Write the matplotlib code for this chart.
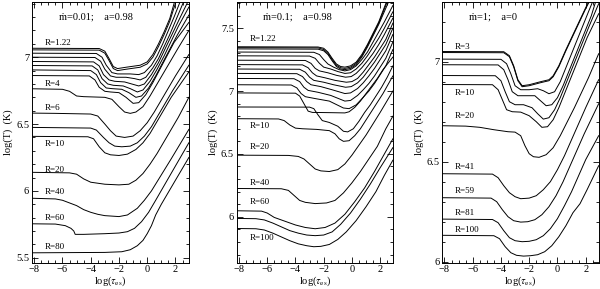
import matplotlib
matplotlib.use('Agg')
import matplotlib.pyplot as plt
from matplotlib.ticker import MultipleLocator, FormatStrFormatter

plt.rcParams['font.family'] = ['Liberation Serif', 'DejaVu Serif']
plt.rcParams['mathtext.fontset'] = 'stix'

# ---- panel 1: mdot=0.01, a=0.98 ----
p1_x = [
    [-8.15, -3.4, -3.0, -2.7, -2.4, -2.1, -1.5, -0.5, 0.0, 0.4, 0.8, 1.2, 1.6, 1.95],
    [-8.15, -3.4, -3.0, -2.7, -2.4, -2.1, -1.5, -0.5, 0.0, 0.4, 0.8, 1.2, 1.6, 2.05],
    [-8.15, -3.6, -3.2, -2.9, -2.5, -2.1, -1.2, -0.6, -0.2, 0.3, 0.7, 1.1, 1.5, 1.9, 2.35],
    [-8.15, -3.7, -3.3, -3.0, -2.6, -2.2, -1.5, -0.9, -0.5, -0.1, 0.4, 0.8, 1.2, 1.6, 2.0, 2.6],
    [-8.15, -3.8, -3.4, -3.1, -2.7, -2.3, -1.6, -1.1, -0.6, -0.2, 0.3, 0.8, 1.3, 1.8, 2.3, 2.95],
    [-8.15, -3.9, -3.5, -3.2, -2.8, -2.4, -1.7, -1.2, -0.7, -0.3, 0.2, 0.7, 1.2, 1.7, 2.2, 2.95],
    [-8.15, -4.0, -3.6, -3.3, -2.9, -2.5, -1.8, -1.3, -0.8, -0.4, 0.1, 0.6, 1.1, 1.6, 2.1, 2.95],
    [-8.15, -4.1, -3.7, -3.4, -3.0, -2.6, -2.0, -1.5, -1.0, -0.6, -0.1, 0.4, 0.9, 1.4, 1.9, 2.95],
    [-8.15, -6.0, -5.5, -5.0, -4.5, -3.0, -2.5, -2.0, -1.6, -1.2, -0.8, -0.3, 0.2, 0.7, 1.2, 1.7, 2.2, 2.95],
    [-8.15, -6.5, -4.0, -3.5, -3.0, -2.6, -2.2, -1.6, -1.0, -0.5, 0.0, 0.5, 1.0, 1.5, 2.0, 2.95],
    [-8.15, -4.0, -3.6, -3.1, -2.7, -2.3, -1.8, -1.2, -0.7, -0.2, 0.3, 0.8, 1.3, 1.8, 2.95],
    [-8.15, -4.2, -3.8, -3.4, -3.0, -2.6, -2.0, -1.4, -0.8, -0.3, 0.2, 0.7, 1.2, 1.7, 2.95],
    [-8.15, -5.5, -5.0, -4.5, -4.0, -3.0, -2.0, -1.3, -0.8, -0.3, 0.2, 0.7, 1.2, 1.7, 2.2, 2.95],
    [-8.15, -6.5, -6.0, -5.0, -4.5, -4.0, -3.5, -3.0, -2.0, -1.4, -0.7, -0.2, 0.3, 1.0, 1.7, 2.95],
    [-8.15, -6.5, -5.8, -5.4, -5.2, -5.1, -4.5, -3.0, -2.0, -1.4, -0.9, -0.4, 0.1, 0.6, 1.2, 1.8, 2.95],
    [-8.15, -3.0, -1.8, -1.2, -0.7, -0.3, 0.0, 0.3, 0.6, 1.0, 1.5, 2.0, 2.95],
]
p1_y = [
    [7.067, 7.065, 7.045, 6.99, 6.93, 6.915, 6.925, 6.94, 6.965, 7.02, 7.10, 7.19, 7.29, 7.42],
    [7.055, 7.053, 7.03, 6.975, 6.915, 6.9, 6.91, 6.925, 6.95, 7.0, 7.08, 7.17, 7.27, 7.42],
    [7.03, 7.028, 7.0, 6.94, 6.885, 6.875, 6.875, 6.87, 6.885, 6.94, 7.01, 7.10, 7.20, 7.30, 7.42],
    [7.0, 6.998, 6.97, 6.91, 6.86, 6.85, 6.85, 6.84, 6.83, 6.85, 6.92, 6.99, 7.08, 7.17, 7.27, 7.42],
    [6.968, 6.965, 6.935, 6.87, 6.83, 6.82, 6.815, 6.80, 6.785, 6.80, 6.87, 6.96, 7.07, 7.18, 7.29, 7.43],
    [6.938, 6.935, 6.905, 6.84, 6.80, 6.79, 6.785, 6.765, 6.74, 6.755, 6.82, 6.91, 7.01, 7.12, 7.23, 7.375],
    [6.905, 6.9, 6.87, 6.81, 6.77, 6.765, 6.76, 6.735, 6.70, 6.71, 6.77, 6.86, 6.96, 7.06, 7.16, 7.315],
    [6.863, 6.86, 6.83, 6.775, 6.745, 6.74, 6.735, 6.70, 6.655, 6.66, 6.72, 6.81, 6.91, 7.01, 7.11, 7.26],
    [6.764, 6.76, 6.745, 6.71, 6.705, 6.70, 6.685, 6.63, 6.59, 6.58, 6.59, 6.63, 6.71, 6.80, 6.89, 6.98, 7.07, 7.20],
    [6.582, 6.58, 6.575, 6.56, 6.50, 6.45, 6.41, 6.40, 6.41, 6.45, 6.51, 6.59, 6.68, 6.77, 6.86, 7.02],
    [6.475, 6.47, 6.455, 6.40, 6.36, 6.335, 6.33, 6.335, 6.36, 6.41, 6.48, 6.57, 6.66, 6.75, 6.94],
    [6.408, 6.405, 6.39, 6.33, 6.285, 6.27, 6.265, 6.275, 6.31, 6.36, 6.43, 6.52, 6.61, 6.70, 6.89],
    [6.139, 6.135, 6.125, 6.09, 6.065, 6.05, 6.045, 6.05, 6.08, 6.13, 6.20, 6.28, 6.37, 6.46, 6.55, 6.70],
    [5.945, 5.94, 5.93, 5.89, 5.86, 5.84, 5.825, 5.815, 5.808, 5.82, 5.87, 5.93, 6.0, 6.12, 6.24, 6.46],
    [5.754, 5.752, 5.74, 5.72, 5.70, 5.675, 5.675, 5.68, 5.685, 5.695, 5.72, 5.77, 5.84, 5.93, 6.04, 6.15, 6.36],
    [5.537, 5.54, 5.545, 5.56, 5.59, 5.63, 5.68, 5.74, 5.82, 5.90, 5.99, 6.08, 6.25],
]
p1_labels = ['R=1.22', 'R=4', 'R=6', 'R=10', 'R=20', 'R=40', 'R=60', 'R=80']
p1_label_y = [7.109, 6.80, 6.62, 6.353, 6.16, 5.99, 5.80, 5.58]

# ---- panel 2: mdot=0.1, a=0.98 ----
p2_x = [
    [-8.2, -2.4, -2.0, -1.7, -1.4, -1.1, -0.8, -0.5, -0.1, 0.3, 0.7, 1.1, 1.5, 1.9, 2.45],
    [-8.2, -2.4, -2.0, -1.7, -1.4, -1.1, -0.8, -0.5, -0.1, 0.3, 0.7, 1.1, 1.5, 1.9, 2.5],
    [-8.2, -2.4, -2.0, -1.7, -1.4, -1.1, -0.8, -0.5, -0.1, 0.3, 0.7, 1.1, 1.5, 1.9, 2.6],
    [-8.2, -2.7, -2.3, -2.0, -1.7, -1.3, -0.9, -0.5, -0.1, 0.3, 0.7, 1.1, 1.5, 1.9, 2.3, 2.9],
    [-8.2, -3.0, -2.6, -2.3, -2.0, -1.5, -1.0, -0.5, -0.1, 0.3, 0.7, 1.1, 1.5, 1.9, 2.3, 2.9],
    [-8.2, -3.3, -2.9, -2.6, -2.3, -1.7, -1.1, -0.45, -0.05, 0.3, 0.7, 1.1, 1.5, 1.9, 2.3, 2.9],
    [-8.2, -3.5, -3.1, -2.8, -2.5, -1.9, -1.2, -0.4, 0.0, 0.4, 0.8, 1.2, 1.6, 2.0, 2.4, 2.9],
    [-8.2, -3.7, -3.3, -3.0, -2.7, -2.0, -1.3, -0.45, -0.05, 0.4, 0.8, 1.2, 1.6, 2.0, 2.4, 2.9],
    [-8.2, -3.9, -3.5, -3.2, -2.9, -2.2, -1.4, -0.5, -0.1, 0.4, 0.8, 1.2, 1.6, 2.0, 2.4, 2.9],
    [-8.2, -4.1, -3.7, -3.4, -3.1, -2.4, -1.5, -0.5, -0.1, 0.4, 0.8, 1.2, 1.6, 2.0, 2.4, 2.9],
    [-8.2, -4.3, -3.9, -3.6, -3.3, -2.6, -1.6, -0.6, -0.2, 0.3, 0.8, 1.2, 1.6, 2.0, 2.4, 2.9],
    [-8.2, -4.0, -3.7, -3.4, -3.1, -2.8, -1.5, -0.5, -0.2, 0.2, 0.6, 1.0, 1.4, 1.8, 2.2, 2.9],
    [-8.2, -3.0, -2.7, -2.4, -2.1, -1.6, -1.0, -0.6, -0.3, 0.1, 0.5, 0.9, 1.3, 1.7, 2.1, 2.5, 2.9],
    [-8.2, -5.2, -4.8, -4.4, -4.0, -3.5, -2.5, -1.6, -1.2, -0.9, -0.6, -0.2, 0.2, 0.6, 1.0, 1.4, 1.8, 2.2, 2.9],
    [-8.2, -4.5, -3.8, -3.4, -3.0, -2.6, -2.2, -1.6, -1.0, -0.5, 0.0, 0.5, 1.0, 1.5, 2.0, 2.9],
    [-8.2, -5.0, -4.5, -4.1, -3.7, -3.3, -2.6, -1.8, -1.2, -0.6, 0.0, 0.6, 1.2, 1.8, 2.4, 2.9],
    [-8.2, -6.4, -6.0, -5.5, -5.0, -4.5, -4.0, -3.3, -2.6, -1.9, -1.2, -0.5, 0.2, 0.9, 1.6, 2.3, 2.9],
    [-8.2, -6.8, -6.2, -5.6, -5.0, -4.4, -3.8, -3.2, -2.6, -2.0, -1.4, -0.8, -0.1, 0.6, 1.3, 2.0, 2.9],
    [-8.2, -6.8, -6.2, -5.6, -5.0, -4.4, -3.8, -3.2, -2.7, -2.2, -1.6, -1.0, -0.4, 0.3, 1.0, 1.7, 2.3, 2.9],
]
p2_y = [
    [7.352, 7.35, 7.34, 7.31, 7.26, 7.215, 7.195, 7.19, 7.2, 7.23, 7.29, 7.37, 7.46, 7.55, 7.71],
    [7.345, 7.343, 7.33, 7.30, 7.25, 7.205, 7.185, 7.18, 7.19, 7.22, 7.28, 7.36, 7.45, 7.54, 7.71],
    [7.335, 7.333, 7.32, 7.29, 7.24, 7.195, 7.175, 7.17, 7.18, 7.21, 7.27, 7.35, 7.44, 7.53, 7.71],
    [7.31, 7.308, 7.29, 7.25, 7.215, 7.19, 7.17, 7.16, 7.17, 7.2, 7.25, 7.31, 7.39, 7.47, 7.55, 7.68],
    [7.28, 7.278, 7.26, 7.22, 7.19, 7.175, 7.155, 7.14, 7.145, 7.175, 7.22, 7.28, 7.35, 7.42, 7.50, 7.63],
    [7.245, 7.243, 7.22, 7.18, 7.16, 7.145, 7.125, 7.11, 7.115, 7.14, 7.185, 7.24, 7.30, 7.37, 7.45, 7.58],
    [7.21, 7.208, 7.185, 7.145, 7.12, 7.105, 7.085, 7.07, 7.075, 7.10, 7.15, 7.21, 7.27, 7.34, 7.41, 7.54],
    [7.175, 7.173, 7.15, 7.11, 7.085, 7.07, 7.05, 7.03, 7.035, 7.065, 7.11, 7.17, 7.23, 7.30, 7.37, 7.50],
    [7.14, 7.138, 7.115, 7.075, 7.05, 7.035, 7.01, 6.98, 6.985, 7.02, 7.065, 7.12, 7.18, 7.25, 7.32, 7.45],
    [7.10, 7.098, 7.075, 7.03, 7.005, 6.99, 6.965, 6.92, 6.925, 6.965, 7.01, 7.06, 7.12, 7.19, 7.26, 7.39],
    [7.05, 7.048, 7.025, 6.98, 6.955, 6.94, 6.92, 6.865, 6.86, 6.89, 6.95, 7.0, 7.06, 7.13, 7.2, 7.33],
    [6.985, 6.983, 6.96, 6.90, 6.84, 6.83, 6.828, 6.826, 6.835, 6.87, 6.92, 6.98, 7.04, 7.10, 7.17, 7.27],
    [6.873, 6.872, 6.86, 6.81, 6.765, 6.75, 6.72, 6.68, 6.675, 6.70, 6.76, 6.83, 6.89, 6.96, 7.03, 7.11, 7.20],
    [6.78, 6.778, 6.765, 6.73, 6.705, 6.70, 6.695, 6.685, 6.66, 6.62, 6.6, 6.605, 6.645, 6.70, 6.77, 6.84, 6.91, 6.98, 7.12],
    [6.49, 6.488, 6.48, 6.46, 6.42, 6.38, 6.365, 6.36, 6.375, 6.42, 6.49, 6.57, 6.65, 6.74, 6.83, 7.0],
    [6.225, 6.223, 6.21, 6.17, 6.13, 6.115, 6.105, 6.11, 6.13, 6.19, 6.27, 6.36, 6.46, 6.56, 6.7, 6.8],
    [6.048, 6.045, 6.03, 5.995, 5.975, 5.955, 5.935, 5.915, 5.905, 5.915, 5.95, 6.02, 6.12, 6.23, 6.36, 6.5, 6.62],
    [5.987, 5.985, 5.975, 5.95, 5.92, 5.89, 5.87, 5.855, 5.85, 5.855, 5.88, 5.94, 6.03, 6.14, 6.26, 6.39, 6.55],
    [5.907, 5.905, 5.895, 5.87, 5.84, 5.81, 5.785, 5.77, 5.762, 5.765, 5.78, 5.82, 5.88, 5.97, 6.08, 6.2, 6.33, 6.45],
]
p2_labels = ['R=1.22', 'R=10', 'R=20', 'R=40', 'R=60', 'R=100']
p2_label_y = [7.415, 6.72, 6.556, 6.27, 6.116, 5.833]

# ---- panel 3: mdot=1, a=0 ----
p3_x = [
    [-8.2, -3.8, -3.4, -3.1, -2.8, -2.5, -2.0, -1.2, -0.6, -0.3, 0.1, 0.6, 1.1, 1.6, 2.0, 2.35],
    [-8.2, -3.8, -3.4, -3.1, -2.8, -2.5, -2.0, -1.2, -0.6, -0.3, 0.1, 0.6, 1.1, 1.6, 2.0, 2.4],
    [-8.2, -4.0, -3.6, -3.3, -3.0, -2.6, -2.0, -1.4, -1.0, -0.6, -0.2, 0.2, 0.6, 1.0, 1.4, 1.8, 2.2, 2.55],
    [-8.2, -4.2, -3.8, -3.5, -3.2, -2.8, -2.2, -1.6, -1.2, -0.8, -0.4, 0.0, 0.4, 0.8, 1.2, 1.6, 2.0, 2.4, 2.75],
    [-8.2, -4.4, -4.0, -3.7, -3.4, -3.0, -2.4, -1.8, -1.4, -1.0, -0.6, -0.2, 0.2, 0.6, 1.0, 1.4, 1.8, 2.2, 2.92],
    [-8.2, -4.6, -4.2, -3.9, -3.6, -3.2, -2.6, -2.0, -1.5, -1.1, -0.7, -0.3, 0.1, 0.5, 0.9, 1.3, 1.7, 2.1, 2.92],
    [-8.2, -6.5, -5.5, -4.5, -3.5, -3.0, -2.6, -2.3, -2.0, -1.7, -1.3, -0.8, -0.3, 0.2, 0.7, 1.2, 1.7, 2.2, 2.92],
    [-8.2, -4.6, -4.2, -3.8, -3.4, -3.0, -2.6, -2.0, -1.5, -1.0, -0.5, 0.0, 0.5, 1.0, 1.5, 2.0, 2.92],
    [-8.2, -4.7, -4.3, -3.9, -3.5, -3.1, -2.6, -2.1, -1.6, -1.1, -0.6, -0.1, 0.4, 0.9, 1.4, 1.9, 2.92],
    [-8.2, -4.6, -4.2, -3.8, -3.4, -3.0, -2.5, -2.0, -1.5, -1.0, -0.5, 0.0, 0.5, 1.0, 1.5, 2.0, 2.92],
    [-8.2, -4.5, -4.1, -3.7, -3.3, -2.9, -2.4, -1.9, -1.4, -0.9, -0.4, 0.1, 0.6, 1.1, 1.6, 2.1, 2.92],
]
p3_y = [
    [7.051, 7.05, 7.03, 6.98, 6.91, 6.88, 6.885, 6.90, 6.91, 6.93, 6.98, 7.06, 7.135, 7.21, 7.27, 7.32],
    [7.046, 7.045, 7.025, 6.975, 6.905, 6.875, 6.88, 6.895, 6.905, 6.925, 6.975, 7.055, 7.13, 7.205, 7.265, 7.32],
    [7.013, 7.012, 6.99, 6.94, 6.88, 6.86, 6.86, 6.865, 6.855, 6.84, 6.85, 6.90, 6.97, 7.04, 7.11, 7.18, 7.25, 7.31],
    [6.985, 6.984, 6.96, 6.91, 6.85, 6.83, 6.83, 6.83, 6.805, 6.78, 6.785, 6.82, 6.88, 6.95, 7.02, 7.09, 7.16, 7.23, 7.31],
    [6.931, 6.93, 6.905, 6.85, 6.80, 6.785, 6.785, 6.77, 6.74, 6.713, 6.72, 6.76, 6.82, 6.89, 6.96, 7.03, 7.10, 7.17, 7.29],
    [6.886, 6.885, 6.86, 6.81, 6.76, 6.75, 6.748, 6.73, 6.70, 6.672, 6.675, 6.71, 6.77, 6.84, 6.91, 6.98, 7.05, 7.12, 7.24],
    [6.68, 6.678, 6.672, 6.66, 6.65, 6.648, 6.63, 6.58, 6.54, 6.525, 6.522, 6.535, 6.57, 6.63, 6.70, 6.77, 6.845, 6.92, 7.04],
    [6.44, 6.438, 6.42, 6.38, 6.345, 6.325, 6.315, 6.318, 6.33, 6.36, 6.40, 6.46, 6.53, 6.61, 6.69, 6.77, 6.91],
    [6.32, 6.318, 6.30, 6.26, 6.225, 6.205, 6.198, 6.2, 6.21, 6.235, 6.275, 6.33, 6.40, 6.48, 6.56, 6.64, 6.79],
    [6.213, 6.211, 6.195, 6.155, 6.12, 6.105, 6.10, 6.102, 6.11, 6.13, 6.165, 6.215, 6.28, 6.35, 6.43, 6.51, 6.63],
    [6.132, 6.13, 6.115, 6.075, 6.045, 6.032, 6.028, 6.03, 6.035, 6.05, 6.08, 6.125, 6.18, 6.245, 6.29, 6.36, 6.48],
]
p3_labels = ['R=3', 'R=10', 'R=20', 'R=41', 'R=59', 'R=81', 'R=100']
p3_label_y = [7.076, 6.845, 6.73, 6.474, 6.353, 6.243, 6.157]

titles = ['\u1e41=0.01;    a=0.98', '\u1e41=0.1;    a=0.98', '\u1e41=1;    a=0']

panels = [
    (p1_x, p1_y, p1_labels, p1_label_y, (5.463, 7.415), 0.0533),
    (p2_x, p2_y, p2_labels, p2_label_y, (5.635, 7.71), 0.3945),
    (p3_x, p3_y, p3_labels, p3_label_y, (5.995, 7.30), 0.737),
]

fig = plt.figure(figsize=(6.0, 2.89), dpi=100)
for i, (xs, ys, labs, laby, ylim, left) in enumerate(panels):
    ax = fig.add_axes([left, 0.091, 0.261, 0.903])
    for x, y in zip(xs, ys):
        ax.plot(x, y, color='k', lw=0.7)
    for lab, ly in zip(labs, laby):
        ax.text(-7.25, ly, lab, fontsize=6.5, va='center', ha='left')
    ax.text(0.17, 0.94, titles[i], transform=ax.transAxes, fontsize=7.5,
            va='center', ha='left')
    ax.set_xlim(-8.16, 2.93)
    ax.set_ylim(*ylim)
    ax.xaxis.set_major_locator(MultipleLocator(2))
    ax.xaxis.set_minor_locator(MultipleLocator(0.5))
    ax.yaxis.set_major_locator(MultipleLocator(0.5))
    ax.yaxis.set_minor_locator(MultipleLocator(0.1))
    ax.yaxis.set_major_formatter(FormatStrFormatter('%g'))
    ax.tick_params(which='both', direction='in', top=True, right=True,
                   labelsize=7.5, width=0.6, pad=2)
    ax.tick_params(which='major', length=4)
    ax.tick_params(which='minor', length=2)
    for s in ax.spines.values():
        s.set_linewidth(0.7)
    ax.set_xlabel(r'log($\tau_{\rm es}$)', fontsize=7.5, labelpad=0)
    ax.set_ylabel('log(T)  (K)', fontsize=7.5, labelpad=2)

fig.savefig('out.png', dpi=100)
